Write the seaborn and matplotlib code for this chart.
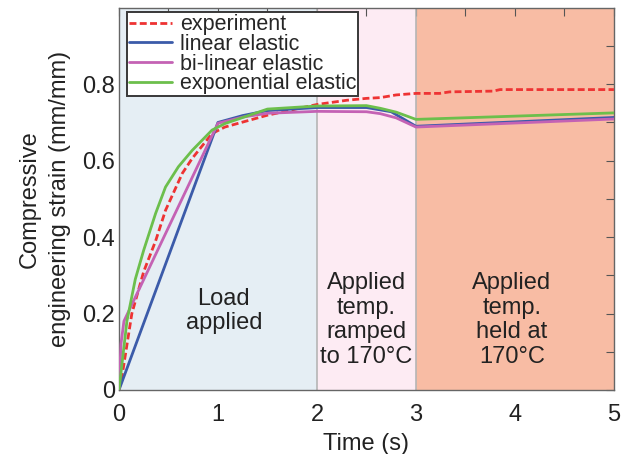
import matplotlib
matplotlib.use("Agg")
import matplotlib.pyplot as plt
import matplotlib.ticker as mticker
import pandas as pd
import numpy as np
import seaborn as sns

sns.set_theme(style="white")
plt.rcParams["font.family"] = ["Liberation Sans", "DejaVu Sans"]

# data
t_exp = [0, 0.03, 0.13, 0.25, 0.37, 0.47, 0.64, 0.74, 0.94, 1.07, 1.5, 2.0, 2.3, 2.5,
         2.64, 2.8, 3.0, 3.24, 3.34, 3.78, 3.85, 5.0]
v_exp = [0, 0.035, 0.2, 0.31, 0.39, 0.47, 0.567, 0.606, 0.671, 0.688, 0.719, 0.747, 0.758,
         0.763, 0.765, 0.772, 0.776, 0.776, 0.780, 0.782, 0.786, 0.786]

t_lin = [0, 1.0, 1.25, 1.5, 2.0, 2.5, 2.75, 3.0, 5.0]
v_lin = [0, 0.700, 0.718, 0.731, 0.739, 0.739, 0.728, 0.690, 0.713]

t_bilin = [0, 0.02, 0.05, 1.0, 1.25, 1.5, 2.0, 2.5, 2.64, 2.8, 3.0, 5.0]
v_bilin = [0, 0.12, 0.18, 0.698, 0.714, 0.724, 0.729, 0.728, 0.723, 0.712, 0.688, 0.709]

t_expo = [0, 0.04, 0.08, 0.165, 0.25, 0.37, 0.47, 0.6, 0.74, 0.94, 1.07, 1.5, 2.0, 2.5,
          2.64, 2.8, 3.0, 5.0]
v_expo = [0, 0.09, 0.18, 0.29, 0.366, 0.462, 0.531, 0.584, 0.627, 0.68, 0.697, 0.735, 0.743,
          0.744, 0.737, 0.727, 0.708, 0.725]

names = ["experiment", "linear elastic", "bi-linear elastic", "exponential elastic"]
colors = {"experiment": "#ee3333", "linear elastic": "#3b5ba9",
          "bi-linear elastic": "#c462b4", "exponential elastic": "#6cbf4c"}

phases = [(0, 2, "#e5eef4", "Load\napplied", 1.06, 0.207),
          (2, 3, "#fdebf3", "Applied\ntemp.\nramped\nto 170°C", 2.5, 0.183),
          (3, 5, "#f8bca4", "Applied\ntemp.\nheld at\n170°C", 3.97, 0.183)]

df = pd.concat([
    pd.DataFrame({"t": t_exp, "v": v_exp, "model": names[0]}),
    pd.DataFrame({"t": t_lin, "v": v_lin, "model": names[1]}),
    pd.DataFrame({"t": t_bilin, "v": v_bilin, "model": names[2]}),
    pd.DataFrame({"t": t_expo, "v": v_expo, "model": names[3]}),
], ignore_index=True)

fig = plt.figure(figsize=(6.21, 4.54), dpi=100)
ax = fig.add_axes([0.1916, 0.141, 0.797, 0.841])

for x0, x1, c, label, tx, ty in phases:
    ax.axvspan(x0, x1, color=c, lw=0, zorder=0)
    ax.text(tx, ty, label, ha="center", va="center", fontsize=17,
            color="#222222", linespacing=1.15, zorder=1)
for x in [2, 3]:
    ax.axvline(x, color="#b5b5b5", lw=1.2, zorder=1)

sns.lineplot(data=df, x="t", y="v", hue="model", style="model",
             hue_order=names, style_order=names, palette=colors,
             dashes={names[0]: (2.5, 1.2), names[1]: "", names[2]: "", names[3]: ""},
             estimator=None, sort=False, lw=2, ax=ax, zorder=3)

ax.set_xlim(0, 5)
ax.set_ylim(0, 0.999)
ax.xaxis.set_major_locator(mticker.MultipleLocator(1))
ax.xaxis.set_minor_locator(mticker.MultipleLocator(0.5))
ax.yaxis.set_major_locator(mticker.MultipleLocator(0.2))
ax.yaxis.set_minor_locator(mticker.MultipleLocator(0.1))
ax.yaxis.set_major_formatter(mticker.FuncFormatter(lambda v, p: "0" if v == 0 else f"{v:.1f}"))
ax.tick_params(which="both", direction="in", top=True, right=True, length=6,
               width=0.8, color="#555555", labelsize=17, labelcolor="#222222")
ax.tick_params(axis="x", pad=10)
ax.tick_params(axis="y", pad=3)
for s in ax.spines.values():
    s.set_color("#666666")
    s.set_linewidth(1.0)

ax.set_xlabel("Time (s)", fontsize=17, labelpad=5, color="#222222")
ax.set_ylabel("Compressive\nengineering strain (mm/mm)", fontsize=17, labelpad=8,
              linespacing=1.45, color="#222222")

leg = ax.legend(loc="upper left", bbox_to_anchor=(0.016, 0.99), fontsize=15.5,
                frameon=True, fancybox=False, handlelength=2.0, handletextpad=0.35,
                labelspacing=-0.06, borderpad=0.1, borderaxespad=0.0)
leg.get_frame().set_edgecolor("#383838")
leg.get_frame().set_linewidth(1.4)
leg.get_frame().set_alpha(1)

fig.savefig("out.png", dpi=100)
